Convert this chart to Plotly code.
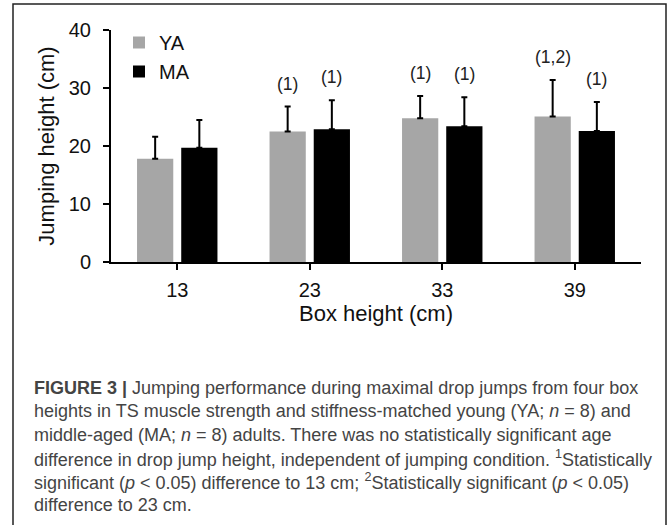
import plotly.graph_objects as go

# Box heights (cm) and mean jumping height +/- SD (cm)
box_heights = ["13", "23", "33", "39"]
ya_mean = [17.8, 22.5, 24.8, 25.1]
ya_sd = [3.8, 4.3, 3.8, 6.3]
ma_mean = [19.7, 22.9, 23.4, 22.6]
ma_sd = [4.8, 5.0, 5.0, 5.0]
ya_sig = ["", "(1)", "(1)", "(1,2)"]
ma_sig = ["", "(1)", "(1)", "(1)"]

caption_lines = [
    "<b>FIGURE 3 |</b> Jumping performance during maximal drop jumps from four box",
    "heights in TS muscle strength and stiffness-matched young (YA; <i>n</i> = 8) and",
    "middle-aged (MA; <i>n</i> = 8) adults. There was no statistically significant age",
    "difference in drop jump height, independent of jumping condition. <sup>1</sup>Statistically",
    "significant (<i>p</i> < 0.05) difference to 13 cm; <sup>2</sup>Statistically significant (<i>p</i> < 0.05)",
    "difference to 23 cm.",
]

FONT = "Liberation Sans, Arial, sans-serif"
W, H = 672, 525
L, R, T, B = 111, 31, 30, 263
PLOT_H = H - T - B
PLOT_W = W - L - R


def py(ypx):
    """Pixel y (from top) to paper y."""
    return (H - B - ypx) / PLOT_H


def px(xpx):
    return (xpx - L) / PLOT_W


fig = go.Figure()

fig.add_trace(
    go.Bar(
        x=box_heights,
        y=ya_mean,
        name="YA",
        marker=dict(color="#a6a6a6", line=dict(width=0)),
        error_y=dict(type="data", array=ya_sd, arrayminus=[0] * 4, symmetric=False,
                     color="black", thickness=2, width=3),
    )
)
fig.add_trace(
    go.Bar(
        x=box_heights,
        y=ma_mean,
        name="MA",
        marker=dict(color="black", line=dict(width=0)),
        error_y=dict(type="data", array=ma_sd, arrayminus=[0] * 4, symmetric=False,
                     color="black", thickness=2, width=3),
    )
)

# significance labels above the error bars (x = category index)
for labels, means, sds, shift in [(ya_sig, ya_mean, ya_sd, -22), (ma_sig, ma_mean, ma_sd, 22)]:
    for i, (lab, m, s) in enumerate(zip(labels, means, sds)):
        if not lab:
            continue
        fig.add_annotation(
            x=i, y=m + s, xref="x", yref="y", text=lab, showarrow=False,
            xshift=shift, yshift=23, font=dict(size=17.5, color="#222"),
        )

# caption
for i, line in enumerate(caption_lines):
    fig.add_annotation(
        x=px(32), y=py(388 + i * 23.4), xref="paper", yref="paper",
        text=line, showarrow=False, xanchor="left", yanchor="middle",
        font=dict(size=18, color="#444", family=FONT),
    )

# figure frame
fig.add_shape(
    type="rect", xref="paper", yref="paper",
    x0=px(13), x1=px(666), y0=py(540), y1=py(4),
    line=dict(color="#222", width=1.5),
)

fig.update_layout(
    width=W,
    height=H,
    margin=dict(l=L, r=R, t=T, b=B),
    plot_bgcolor="white",
    paper_bgcolor="white",
    font=dict(family=FONT, color="#111", size=20),
    barmode="group",
    bargap=0.333,
    bargroupgap=0.18,
    legend=dict(
        x=px(119), y=py(23), xanchor="left", yanchor="top",
        font=dict(size=20), bgcolor="rgba(0,0,0,0)",
        itemwidth=30, tracegroupgap=0,
    ),
    xaxis=dict(
        type="category",
        title=dict(text="Box height (cm)", font=dict(size=22), standoff=3),
        showline=True, linecolor="black", linewidth=2,
        ticks="outside", ticklen=6, tickwidth=2, tickcolor="black",
        tickfont=dict(size=20), ticklabelstandoff=3, range=[-0.5, 3.5],
    ),
    yaxis=dict(
        title=dict(text="Jumping height (cm)", font=dict(size=22), standoff=8),
        range=[0, 40], dtick=10, showline=True, linecolor="black", linewidth=2,
        ticks="outside", ticklen=6, tickwidth=2, tickcolor="black",
        tickfont=dict(size=20), ticklabelstandoff=8, showgrid=False, zeroline=False,
    ),
)

fig.write_html(
    "out.html",
    config={"displayModeBar": False},
    post_script="document.body.style.margin='0';",
)
